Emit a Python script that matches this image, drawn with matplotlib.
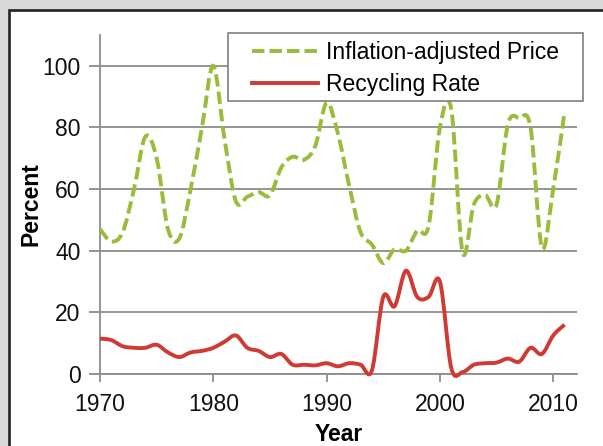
import numpy as np
import matplotlib
matplotlib.use("Agg")
import matplotlib.pyplot as plt
from matplotlib.path import Path
from matplotlib.patches import PathPatch, Rectangle
from matplotlib.lines import Line2D

plt.rcParams['font.family'] = ['Liberation Sans', 'DejaVu Sans']

# datos
years = list(range(1970, 2012))
price = [47, 43, 46, 60, 77, 70, 47, 44, 60, 80,
         100, 76, 56, 57.5, 59, 58, 67, 70.5, 69.5, 74,
         88, 78, 61, 46, 42, 36, 40.5, 40, 46.5, 48,
         80, 86, 39.5, 55, 58, 55, 81, 83, 80, 41,
         60, 85]
recycling = [11.5, 11, 9, 8.5, 8.5, 9.5, 7, 5.5, 7, 7.5,
             8.5, 10.5, 12.5, 8.5, 7.5, 5.5, 6.5, 3, 3, 2.8,
             3.5, 2.5, 3.5, 3, 1.2, 25, 22, 33.5, 25, 25,
             30, 2, 0.6, 3, 3.5, 3.7, 5, 4, 8.5, 6.5,
             12.5, 16]

green = "#9bbb3b"
red = "#cf3b33"
grid_gray = "#8c8c8c"
dashes = (0, (3.2, 1.3))
lw = 2.8


def smooth_path(x, y):
    # curva suavizada tipo Excel (bezier cubica entre los puntos)
    p = np.column_stack([x, y]).astype(float)
    n = len(p)
    verts = [p[0]]
    codes = [Path.MOVETO]
    for i in range(n - 1):
        p0 = p[i - 1] if i > 0 else p[i]
        p3 = p[i + 2] if i + 2 < n else p[i + 1]
        c1 = p[i] + (p[i + 1] - p0) / 6.0
        c2 = p[i + 1] - (p3 - p[i]) / 6.0
        verts += [c1, c2, p[i + 1]]
        codes += [Path.CURVE4] * 3
    return Path(verts, codes)


fig = plt.figure(figsize=(6.03, 4.46), dpi=100)
fig.patch.set_facecolor("#d9d9d9")
fig.patches.append(Rectangle((8.5 / 603, -0.05), 1.0, (446 - 10) / 446 + 0.05,
                             transform=fig.transFigure, facecolor="white",
                             edgecolor="#222222", linewidth=1.9, zorder=-10))

ax = fig.add_axes([100 / 603, (446 - 374) / 446, 477 / 603, 339 / 446])
ax.set_facecolor("none")

ax.add_patch(PathPatch(smooth_path(years, price), fill=False, edgecolor=green,
                       linewidth=lw, linestyle=dashes, capstyle="butt", zorder=3))
ax.add_patch(PathPatch(smooth_path(years, recycling), fill=False, edgecolor=red,
                       linewidth=lw, zorder=3, clip_on=False))

ax.set_xlim(1970, 2012.1)
ax.set_ylim(0, 110)
ax.set_xticks([1970, 1980, 1990, 2000, 2010])
ax.set_yticks([0, 20, 40, 60, 80, 100])
ax.yaxis.grid(True, color=grid_gray, linewidth=1.3)
ax.set_axisbelow(True)

for s in ["top", "right"]:
    ax.spines[s].set_visible(False)
for s in ["left", "bottom"]:
    ax.spines[s].set_color(grid_gray)
    ax.spines[s].set_linewidth(1.3)

ax.tick_params(axis="both", direction="out", color=grid_gray, width=1.3,
               length=6, labelsize=16.5, pad=8, labelcolor="#111111")
ax.tick_params(axis="y", length=8, pad=6)

ax.set_xlabel("Year", fontsize=16.5, fontweight="bold", labelpad=5)
ax.set_ylabel("Percent", fontsize=16.5, fontweight="bold", labelpad=0)

# caja de la leyenda
ax.add_patch(Rectangle((228 / 603, 1 - 101 / 446), 355 / 603, 68 / 446,
                       transform=fig.transFigure, facecolor="white",
                       edgecolor="#7f7f7f", linewidth=1.2, zorder=4, clip_on=False))

handles = [Line2D([], [], color=green, linewidth=lw, linestyle=dashes),
           Line2D([], [], color=red, linewidth=lw)]
leg = ax.legend(handles, ["Inflation-adjusted Price", "Recycling Rate"],
                loc="center left", bbox_to_anchor=(252 / 603, 1 - 68.5 / 446),
                bbox_transform=fig.transFigure, fontsize=16.5, frameon=False,
                handlelength=2.9, handletextpad=0.35, borderpad=0,
                labelspacing=0.42, borderaxespad=0)
leg.set_zorder(5)

fig.savefig("out.png", dpi=100, facecolor=fig.get_facecolor())
